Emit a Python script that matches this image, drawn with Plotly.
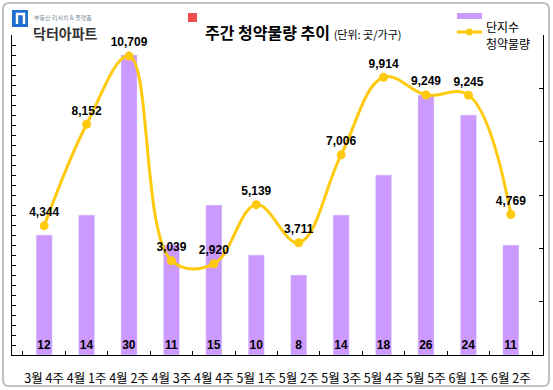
import plotly.graph_objects as go

categories = ["3월 4주", "4월 1주", "4월 2주", "4월 3주", "4월 4주", "5월 1주",
              "5월 2주", "5월 3주", "5월 4주", "5월 5주", "6월 1주", "6월 2주"]
complexes = [12, 14, 30, 11, 15, 10, 8, 14, 18, 26, 24, 11]
supply = [4344, 8152, 10709, 3039, 2920, 5139, 3711, 7006, 9914, 9249, 9245, 4769]

W, H = 553, 390
L, R, T, B = 12, 10, 35, 35
PW, PH = W - L - R, H - T - B


def px(x):
    return (x - L) / PW


def py(y):
    return (H - B - y) / PH


BAR = "#CC99FF"
LINE = "#FFC90E"
NUMFONT = "Liberation Sans, Noto Sans CJK KR, sans-serif"
KFONT = "Noto Sans CJK KR, sans-serif"

fig = go.Figure()
fig.add_trace(go.Bar(
    x=categories, y=complexes, name="단지수", marker_color=BAR, width=0.38,
    text=[str(v) for v in complexes], textposition="inside",
    insidetextanchor="start", textangle=0, constraintext="none",
    textfont=dict(family=NUMFONT, size=12, color="black", weight="bold"),
    showlegend=False, cliponaxis=False,
))
fig.add_trace(go.Scatter(
    x=categories, y=supply, name="청약물량", yaxis="y2",
    mode="lines+markers+text",
    line=dict(color=LINE, width=3, shape="spline", smoothing=1.1),
    marker=dict(color=LINE, size=9),
    text=[f"{v:,}" for v in supply], textposition="top center",
    textfont=dict(family=NUMFONT, size=12, color="black", weight="bold"),
    showlegend=False, cliponaxis=False,
))

shapes = []
# outer border (rounded)
x0, x1, y0, y1, r = 3, 549, 3, 386, 6
path = (f"M {px(x0 + r)} {py(y0)} L {px(x1 - r)} {py(y0)} Q {px(x1)} {py(y0)} {px(x1)} {py(y0 + r)} "
        f"L {px(x1)} {py(y1 - r)} Q {px(x1)} {py(y1)} {px(x1 - r)} {py(y1)} "
        f"L {px(x0 + r)} {py(y1)} Q {px(x0)} {py(y1)} {px(x0)} {py(y1 - r)} "
        f"L {px(x0)} {py(y0 + r)} Q {px(x0)} {py(y0)} {px(x0 + r)} {py(y0)} Z")
shapes.append(dict(type="path", xref="paper", yref="paper", path=path,
                   line=dict(color="#C0C0C0", width=2), layer="below"))
# logo square
shapes.append(dict(type="rect", xref="paper", yref="paper",
                   x0=px(12), x1=px(28), y0=py(27), y1=py(10),
                   fillcolor="#1E6FD0", line=dict(width=0)))
# logo glyph (white)
shapes.append(dict(type="path", xref="paper", yref="paper",
                   path=(f"M {px(17)} {py(24)} L {px(17)} {py(14)} L {px(24)} {py(14)} L {px(24)} {py(24)}"),
                   line=dict(color="white", width=2.5)))
# title red square
shapes.append(dict(type="rect", xref="paper", yref="paper",
                   x0=px(188), x1=px(197), y0=py(22), y1=py(13),
                   fillcolor="#F04E4E", line=dict(width=0)))
# legend: bar swatch
shapes.append(dict(type="rect", xref="paper", yref="paper",
                   x0=px(457), x1=px(482), y0=py(19), y1=py(13),
                   fillcolor=BAR, line=dict(width=0)))
# legend: line swatch
shapes.append(dict(type="line", xref="paper", yref="paper",
                   x0=px(457), x1=px(482), y0=py(32), y1=py(32),
                   line=dict(color=LINE, width=3)))
shapes.append(dict(type="circle", xref="paper", yref="paper",
                   x0=px(466), x1=px(473), y0=py(35.5), y1=py(28.5),
                   fillcolor=LINE, line=dict(width=0)))

annotations = [
    dict(x=px(32), y=py(11), xref="paper", yref="paper", text="부동산 리서치 & 플랫폼",
         showarrow=False, xanchor="left", font=dict(family=KFONT, size=6, color="#8090A0")),
    dict(x=px(31), y=py(21), xref="paper", yref="paper", text="<b>닥터아파트</b>",
         showarrow=False, xanchor="left", font=dict(family=KFONT, size=14, color="#333333")),
    dict(x=px(203), y=py(18), xref="paper", yref="paper",
         text="<b>주간 청약물량 추이</b> <span style='font-size:11px'>(단위: 곳/가구)</span>",
         showarrow=False, xanchor="left", font=dict(family=KFONT, size=16, color="black")),
    dict(x=px(484), y=py(16), xref="paper", yref="paper", text="단지수",
         showarrow=False, xanchor="left", font=dict(family=KFONT, size=12, color="black")),
    dict(x=px(484), y=py(33), xref="paper", yref="paper", text="청약물량",
         showarrow=False, xanchor="left", font=dict(family=KFONT, size=12, color="black")),
]

fig.update_layout(
    width=W, height=H,
    margin=dict(l=L, r=R, t=T, b=B, pad=0, autoexpand=False),
    paper_bgcolor="white", plot_bgcolor="white",
    bargap=0.6,
    xaxis=dict(type="category", showline=True, linecolor="black", linewidth=1,
               ticks="inside", ticklen=4, tickcolor="black", tickson="boundaries",
               showgrid=False, tickangle=0, automargin=False, ticklabelstandoff=12,
               tickfont=dict(family=KFONT, size=12.5, color="black")),
    yaxis=dict(range=[0, 32], dtick=1, tick0=0, showline=True, linecolor="black",
               ticks="inside", ticklen=4, tickcolor="black", automargin=False,
               showticklabels=False, showgrid=False, zeroline=False),
    yaxis2=dict(range=[-500, 11500], dtick=2000, tick0=-500, overlaying="y",
                side="right", showline=True, linecolor="black", automargin=False,
                ticks="inside", ticklen=4, tickcolor="black",
                showticklabels=False, showgrid=False, zeroline=False),
    shapes=shapes, annotations=annotations,
)

fig.write_html("out.html", config={"displayModeBar": False},
               post_script="document.body.style.margin='0';document.body.style.overflow='hidden';")
